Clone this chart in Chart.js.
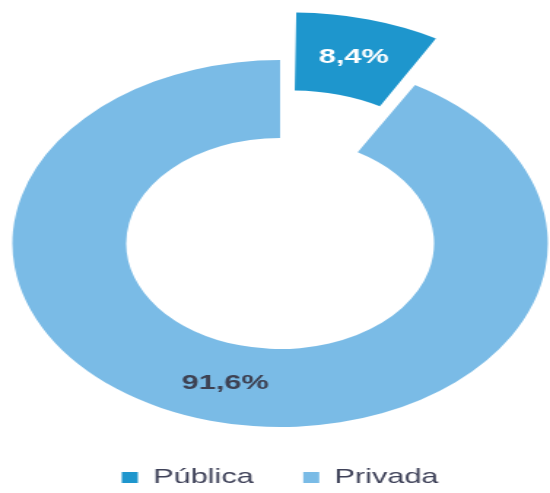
<!DOCTYPE html>
<html lang="es">
<head>
    <meta charset="UTF-8">
    <title>Pública / Privada</title>
    <script src="https://cdn.jsdelivr.net/npm/chart.js"></script>
    <style>
        html, body {
            margin: 0;
            padding: 0;
            background: white;
            overflow: hidden;
        }

        /* el gráfico original está estirado en horizontal */
        .wrap {
            width: 377px;
            height: 493px;
            transform: scaleX(1.4589);
            transform-origin: 0 0;
        }
    </style>
</head>
<body>
    <div class="wrap">
        <canvas id="grafico"></canvas>
    </div>

    <script>
        const categorias = ["Pública", "Privada"];
        const valores = [8.4, 91.6];
        const colores = ["#1e96cd", "#7abbe6"];
        const coloresEtiqueta = ["#ffffff", "#3d4152"];
        const desplazamiento = [130, 0];

        const fuente = "'Liberation Sans', Arial, sans-serif";

        // etiquetas de porcentaje en el centro de cada sector
        const etiquetas = {
            id: "etiquetas",
            afterDatasetsDraw(chart) {
                const ctx = chart.ctx;
                const meta = chart.getDatasetMeta(0);
                ctx.save();
                ctx.font = "bold 21px " + fuente;
                ctx.textAlign = "center";
                ctx.textBaseline = "middle";
                meta.data.forEach((arc, i) => {
                    const medio = (arc.startAngle + arc.endAngle) / 2;
                    const off = (arc.options.offset || 0) / 4;
                    const fix = 1 - Math.sin(Math.min(Math.PI, arc.circumference));
                    const r = (arc.innerRadius + arc.outerRadius) / 2 + off + off * fix;
                    const x = arc.x + Math.cos(medio) * r;
                    const y = arc.y + Math.sin(medio) * r;
                    ctx.fillStyle = coloresEtiqueta[i];
                    ctx.fillText(valores[i].toFixed(1).replace(".", ",") + "%", x, y);
                });
                ctx.restore();
            }
        };

        new Chart(document.getElementById("grafico"), {
            type: "doughnut",
            data: {
                labels: categorias,
                datasets: [{
                    data: valores,
                    backgroundColor: colores,
                    borderWidth: 0,
                    offset: desplazamiento,
                    hoverOffset: 0,
                    clip: false
                }]
            },
            options: {
                responsive: true,
                maintainAspectRatio: false,
                animation: false,
                radius: 183.5,
                cutout: "57.5%",
                layout: {
                    padding: { top: 54, left: 7, right: 0, bottom: 0 }
                },
                plugins: {
                    tooltip: { enabled: false },
                    legend: {
                        position: "bottom",
                        maxHeight: 60,
                        labels: {
                            boxWidth: 11,
                            boxHeight: 11,
                            padding: 34,
                            color: "#3f4259",
                            font: { family: fuente, size: 21 }
                        }
                    }
                }
            },
            plugins: [etiquetas]
        });
    </script>
</body>
</html>
